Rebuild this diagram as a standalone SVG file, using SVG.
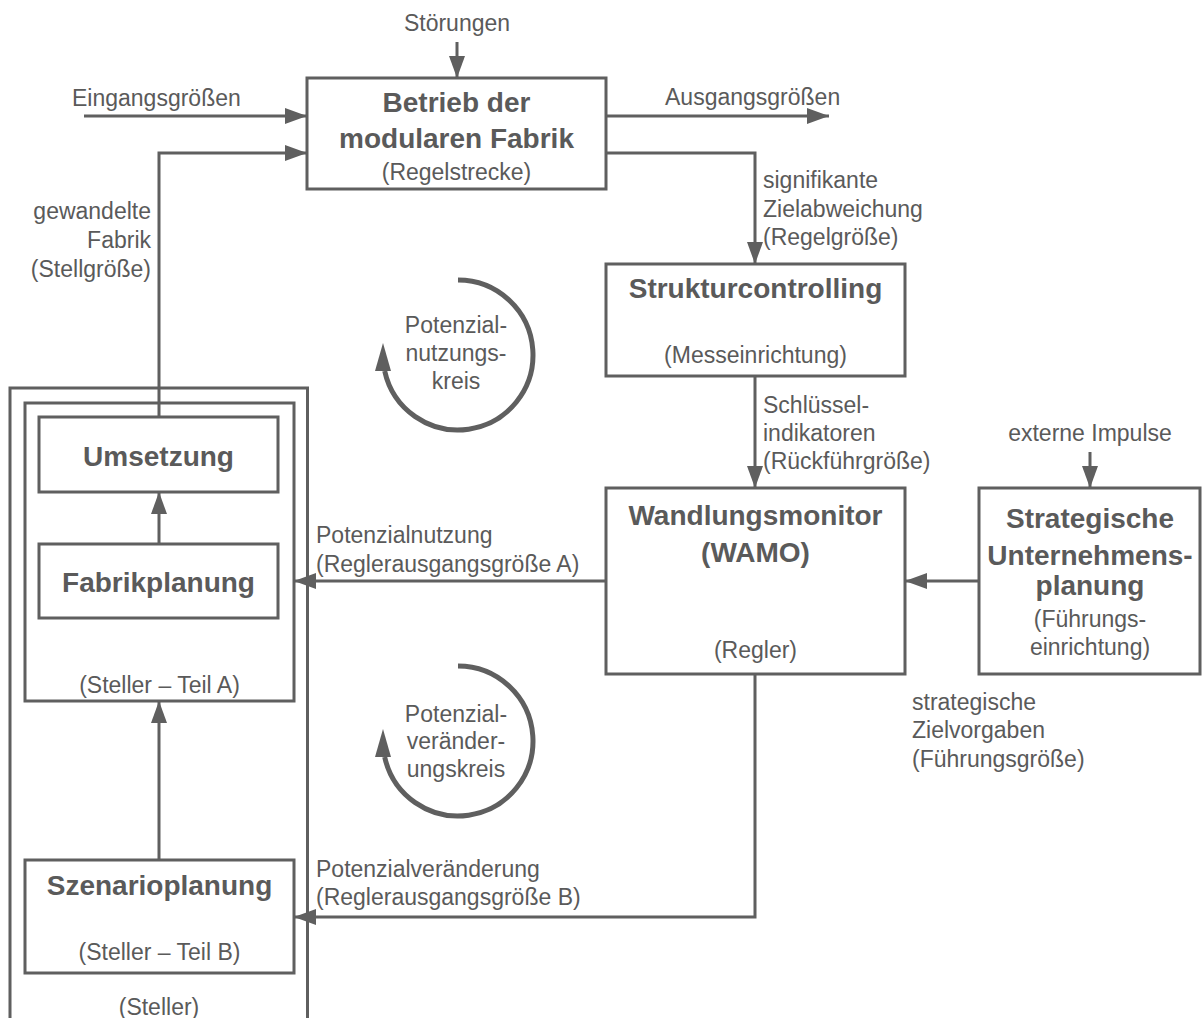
<svg xmlns="http://www.w3.org/2000/svg" width="1203" height="1018" viewBox="0 0 1203 1018">
  <style>
    .box { fill: #ffffff; stroke: #5f5f5f; stroke-width: 3; }
    .frame { fill: none; stroke: #5f5f5f; stroke-width: 3; }
    .wire { fill: none; stroke: #5f5f5f; stroke-width: 3; marker-end: url(#head); }
    .loop { fill: none; stroke: #5f5f5f; stroke-width: 5; }
    .tip { fill: #5f5f5f; }
    text { font-family: "Liberation Sans", Arial, Helvetica, sans-serif; fill: #5a5a5a; }
    .t { font-size: 23px; }
    .b { font-size: 28px; font-weight: bold; }
    .c { text-anchor: middle; }
    .r { text-anchor: end; }
  </style>
  <defs>
    <marker id="head" markerUnits="userSpaceOnUse" markerWidth="22" markerHeight="16" refX="22" refY="8" orient="auto">
      <path d="M0,0 L22,8 L0,16 Z" fill="#5f5f5f"/>
    </marker>
  </defs>

  <rect width="1203" height="1018" fill="#ffffff"/>

  <!-- outer frame of the actuator (open at the bottom) -->
  <g id="steller">
    <path class="frame" d="M10,1020 V388 H307.5 V1020"/>
    <text class="t c" x="159" y="1015">(Steller)</text>
  </g>

  <g id="steller-teil-a">
    <rect class="box" x="25" y="403" width="269" height="298"/>
    <text class="t c" x="159.5" y="693">(Steller – Teil A)</text>
  </g>

  <g id="umsetzung">
    <rect class="box" x="39" y="417" width="239" height="75"/>
    <text class="b c" x="158.5" y="466">Umsetzung</text>
  </g>

  <g id="fabrikplanung">
    <rect class="box" x="39" y="544" width="239" height="74"/>
    <text class="b c" x="158.5" y="592">Fabrikplanung</text>
  </g>

  <g id="szenarioplanung">
    <rect class="box" x="25" y="860" width="269" height="113"/>
    <text class="b c" x="159.5" y="895">Szenarioplanung</text>
    <text class="t c" x="159.5" y="960">(Steller – Teil B)</text>
  </g>

  <g id="betrieb">
    <rect class="box" x="307" y="78" width="299" height="111"/>
    <text class="b c" x="456.5" y="112">Betrieb der</text>
    <text class="b c" x="456.5" y="148">modularen Fabrik</text>
    <text class="t c" x="456.5" y="180">(Regelstrecke)</text>
  </g>

  <g id="strukturcontrolling">
    <rect class="box" x="606" y="264" width="299" height="112"/>
    <text class="b c" x="755.5" y="298">Strukturcontrolling</text>
    <text class="t c" x="755.5" y="363">(Messeinrichtung)</text>
  </g>

  <g id="wamo">
    <rect class="box" x="606" y="488" width="299" height="186"/>
    <text class="b c" x="755.5" y="525">Wandlungsmonitor</text>
    <text class="b c" x="755.5" y="562">(WAMO)</text>
    <text class="t c" x="755.5" y="658">(Regler)</text>
  </g>

  <g id="unternehmensplanung">
    <rect class="box" x="979" y="488" width="221" height="186"/>
    <text class="b c" x="1090" y="528">Strategische</text>
    <text class="b c" x="1090" y="565">Unternehmens-</text>
    <text class="b c" x="1090" y="595">planung</text>
    <text class="t c" x="1090" y="627">(Führungs-</text>
    <text class="t c" x="1090" y="655">einrichtung)</text>
  </g>

  <!-- connectors -->
  <g id="connectors">
    <path class="wire" d="M457,42 V78"/>
    <path class="wire" d="M84,116 H307"/>
    <path class="wire" d="M159,417 V153 H307"/>
    <path class="wire" d="M606,116 H829"/>
    <path class="wire" d="M606,153 H755 V264"/>
    <path class="wire" d="M755,376 V488"/>
    <path class="wire" d="M1090,452 V488"/>
    <path class="wire" d="M979,581 H905"/>
    <path class="wire" d="M606,581 H294"/>
    <path class="wire" d="M159,544 V492"/>
    <path class="wire" d="M159,860 V701"/>
    <path class="wire" d="M755,674 V917 H294"/>
  </g>

  <!-- connector labels -->
  <g id="labels">
    <text class="t c" x="457" y="31">Störungen</text>
    <text class="t" x="72" y="106">Eingangsgrößen</text>
    <text class="t" x="665" y="105">Ausgangsgrößen</text>
    <text class="t r" x="151" y="219">gewandelte</text>
    <text class="t r" x="151" y="248">Fabrik</text>
    <text class="t r" x="151" y="277">(Stellgröße)</text>
    <text class="t" x="763" y="188">signifikante</text>
    <text class="t" x="763" y="217">Zielabweichung</text>
    <text class="t" x="763" y="245">(Regelgröße)</text>
    <text class="t" x="763" y="413">Schlüssel-</text>
    <text class="t" x="763" y="441">indikatoren</text>
    <text class="t" x="763" y="469">(Rückführgröße)</text>
    <text class="t c" x="1090" y="441">externe Impulse</text>
    <text class="t" x="912" y="710">strategische</text>
    <text class="t" x="912" y="738">Zielvorgaben</text>
    <text class="t" x="912" y="767">(Führungsgröße)</text>
    <text class="t" x="316" y="543">Potenzialnutzung</text>
    <text class="t" x="316" y="572">(Reglerausgangsgröße A)</text>
    <text class="t" x="316" y="877">Potenzialveränderung</text>
    <text class="t" x="316" y="905">(Reglerausgangsgröße B)</text>
  </g>

  <!-- loop indicators -->
  <g id="potenzialnutzungskreis">
    <path class="loop" d="M458,280 A75,75 0 1 1 384.7,371"/>
    <polygon class="tip" points="383,343 375,371 391,371"/>
    <text class="t c" x="456" y="333">Potenzial-</text>
    <text class="t c" x="456" y="361">nutzungs-</text>
    <text class="t c" x="456" y="389">kreis</text>
  </g>

  <g id="potenzialveraenderungskreis">
    <path class="loop" d="M458,666 A75,75 0 1 1 384.7,757"/>
    <polygon class="tip" points="383,729 375,757 391,757"/>
    <text class="t c" x="456" y="722">Potenzial-</text>
    <text class="t c" x="456" y="749">veränder-</text>
    <text class="t c" x="456" y="777">ungskreis</text>
  </g>
</svg>
